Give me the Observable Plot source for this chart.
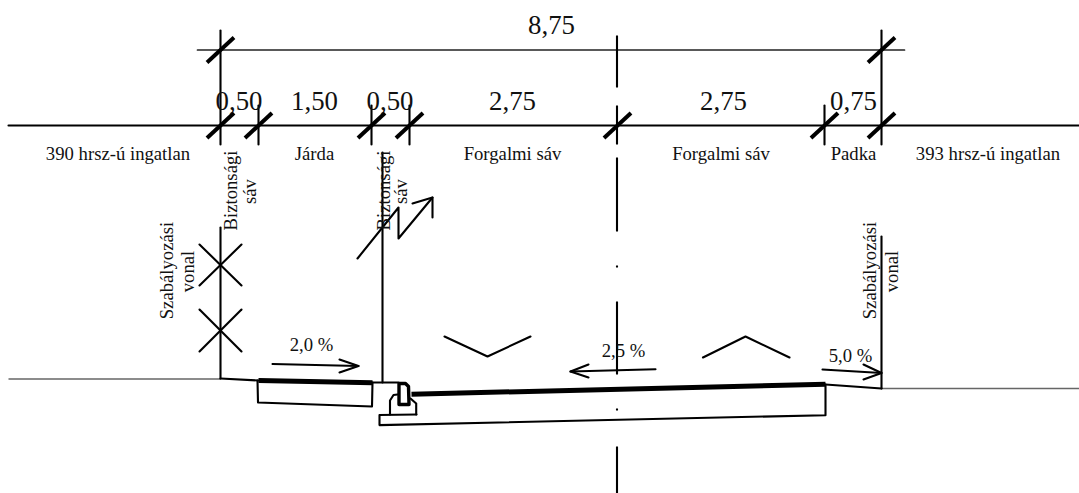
<!DOCTYPE html>
<html>
<head>
<meta charset="utf-8">
<script src="https://cdn.jsdelivr.net/npm/d3@7"></script>
<script src="https://cdn.jsdelivr.net/npm/@observablehq/plot@0.6"></script>
<style>
html,body{margin:0;padding:0;background:#fff;overflow:hidden}
svg{display:block}
</style>
</head>
<body>
<div id="chart"></div>
<script>
// Values, in drawing units
const tickStations = [[220,49.5],[881,49.5],[220,125],[258,125],[371,125],[409,125],[617,125],[824,125],[881,125]];
const dimensionLines = [
  [[197,49.5],[904,49.5]]
];
const leaders = [
  [[8,125],[1079,125]],
  [[220,30],[220,144]],
  [[881,30],[881,144]],
  [[258,105],[258,144]],
  [[371,105],[371,144]],
  [[409,105],[409,144]],
  [[824,105],[824,144]]
];
const centerLine = [
  [[616.5,35],[616.5,87]],
  [[616.5,105],[616.5,144]],
  [[616.5,157],[616.5,231]],
  [[616.5,265],[616.5,267]],
  [[616.5,301],[616.5,374]],
  [[616.5,408],[616.5,410]],
  [[616.5,446],[616.5,493]]
];
const propertyLines = [
  [[220,227],[220,378]],
  [[881,236],[881,388]],
  [[382,152],[382,382]],
  [[199,244],[241,285]],
  [[241,244],[199,285]],
  [[199,309],[241,351]],
  [[241,309],[199,351]],
  [[357,258],[398,207],[398,238],[432,197]],
  [[412,203],[432,197],[432,217]]
];
const arrows = [
  [[272,363.5],[358,365.5]],
  [[339,359],[358,365.5],[339,372]],
  [[655,368.7],[570,371]],
  [[588,364],[570,371],[588,377]],
  [[822,369],[881,372.5]],
  [[863,364],[881,372.5],[863,379]]
];
const crossfall = [
  [[444,336],[487,356],[530,336]],
  [[702.5,357],[745,336],[789,357]]
];
const groundLines = [
  [[8,378.5],[220,378.5]],
  [[881,388],[1079,388]]
];
const structure = [
  [[220,378],[258,380]],
  [[372,382],[398,382]],
  [[825,384],[881,388]],
  [[257,380],[257.5,402],[371.5,406],[372,382]],
  [[825,384],[825,414.7],[379,424.6],[379,414.5],[416,414]],
  [[389.5,414],[389.5,400],[393,394.5],[397,394]],
  [[410,398],[415.7,403],[415.7,414]]
];
const surfacing = [
  [[258,380],[372,382.2]],
  [[411,393.7],[825,383.8]]
];
const curb = [[398.5,404],[398.5,383],[405,383],[408,386],[408.5,404],[398.5,404]];

const widthLabels = ["8,75","0,50","1,50","0,50","2,75","2,75","0,75"];
const widthX = [551,238.5,314,389.5,512,723,853];
const widthY = [33,109.5,109.5,109.5,109.5,109.5,109.5];

const zoneLabels = ["390 hrsz-ú ingatlan","Járda","Forgalmi sáv","Forgalmi sáv","Padka","393 hrsz-ú ingatlan"];
const zoneX = [117.5,314,512,720.5,853,987.5];
const zoneY = 159;

const slopeLabels = ["2,0 %","2,5 %","5,0 %"];
const slopeX = [311,623,850];
const slopeY = [350.7,356,361.7];

const sideLabels = ["Biztonsági","sáv","Biztonsági","sáv","Szabályozási","vonal","Szabályozási","vonal"];
const sideX = [236,255,389,406.7,172.7,193.3,875.7,897.7];
const sideY = [190,191,190,191,270,271,270,271];

const poly = (lines) => lines.flatMap((l, i) => l.map(([x, y]) => ({x, y, i})));
const pl = (lines, strokeWidth, stroke = "#000", extra = {}) =>
  Plot.line(poly(lines), {x: "x", y: "y", z: "i", stroke, strokeWidth, ...extra});
const labels = (text, xs, ys, fontSize, extra = {}) =>
  Plot.text(text.map((t, i) => ({t, x: xs[i], y: Array.isArray(ys) ? ys[i] : ys})), {
    x: "x", y: "y", text: "t", fontSize, fill: "#111", textAnchor: "middle", lineAnchor: "bottom", ...extra
  });

const chart = Plot.plot({
  width: 1079, height: 493,
  marginTop: 0, marginRight: 0, marginBottom: 0, marginLeft: 0,
  x: {domain: [0, 1079], range: [0, 1079], axis: null},
  y: {domain: [0, 493], range: [0, 493], axis: null},
  style: {fontFamily: "'Liberation Serif', serif", background: "#fff"},
  marks: [
    pl(dimensionLines, 1.7, "#222"),
    pl(leaders, 2.1),
    pl(centerLine, 2.1, "#000", {strokeLinecap: "butt"}),
    pl(groundLines, 1.5, "#666", {strokeLinecap: "butt"}),
    pl(structure, 2.1),
    pl(propertyLines, 2.1),
    pl(arrows, 2.1),
    pl(crossfall, 2.1),
    pl(surfacing, 5, "#000", {strokeLinecap: "butt"}),
    pl([curb], 3.4, "#000"),
    Plot.link(tickStations, {
      x1: (d) => d[0] - 13.5, y1: (d) => d[1] + 12.5,
      x2: (d) => d[0] + 13.5, y2: (d) => d[1] - 12.5,
      stroke: "#000", strokeWidth: 4, strokeLinecap: "butt"
    }),
    labels(widthLabels, widthX, widthY, 26.8),
    labels(zoneLabels, zoneX, zoneY, 18.7),
    labels(slopeLabels, slopeX, slopeY, 18.7),
    labels(sideLabels, sideX, sideY, 18.7, {rotate: -90})
  ]
});
document.getElementById("chart").appendChild(chart);
</script>
</body>
</html>
